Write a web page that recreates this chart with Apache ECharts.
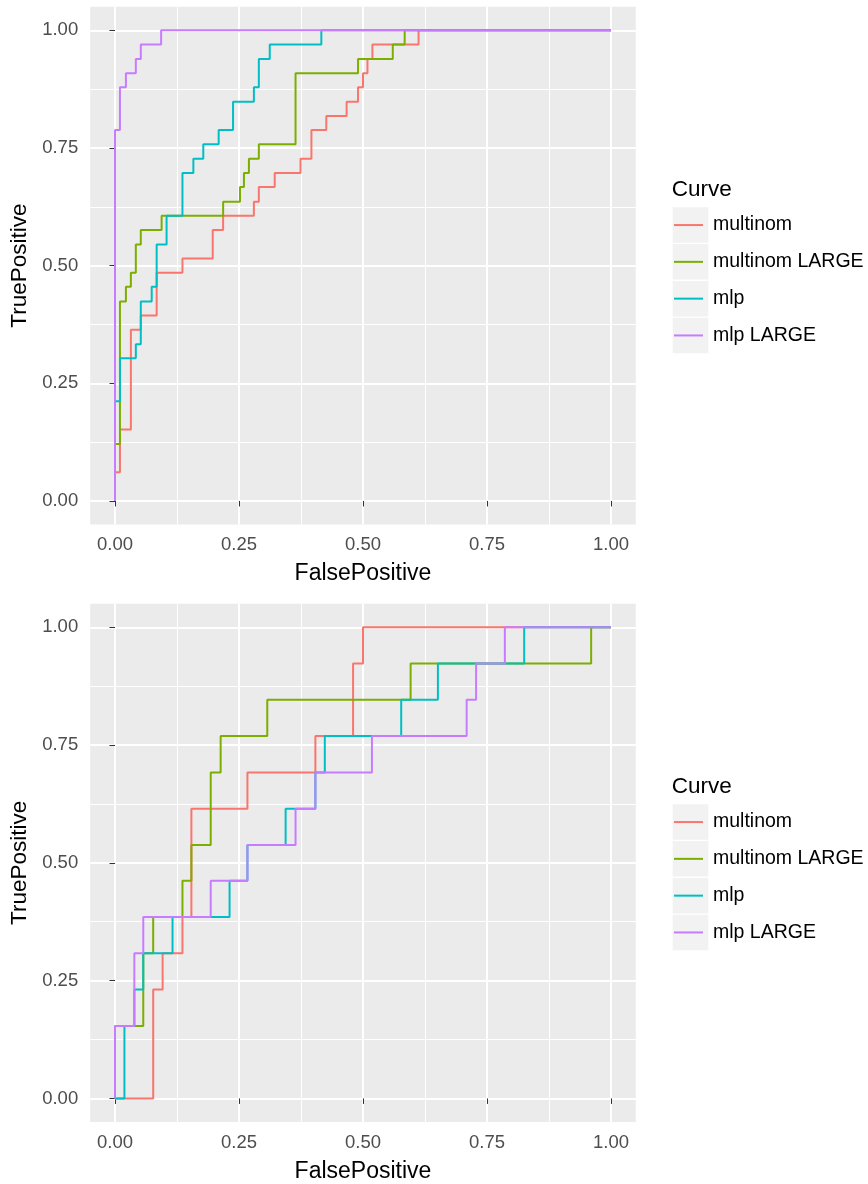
<!DOCTYPE html>
<html>
<head>
<meta charset="utf-8">
<script src="https://cdn.jsdelivr.net/npm/echarts@6/dist/echarts.min.js"></script>
<style>
  html, body { margin: 0; padding: 0; background: #fff; }
  #chart { width: 868px; height: 1184px; }
</style>
</head>
<body>
<div id="chart"></div>
<script>
// curve names + ggplot hue colours
var curveNames = ['multinom', 'multinom LARGE', 'mlp', 'mlp LARGE'];
var curveColors = ['#F8766D', '#7CAE00', '#00BFC4', '#C77CFF'];

var tickValues = [0, 0.25, 0.5, 0.75, 1];
var minorTickValues = [0.125, 0.375, 0.625, 0.875];

// top panel (ROC points)
var topMultinomFP = [0, 0, 0.010, 0.032, 0.052, 0.084, 0.136, 0.197, 0.218, 0.280, 0.290, 0.322, 0.374, 0.396, 0.426, 0.467, 0.490, 0.500, 0.509, 0.519, 0.612, 1];
var topMultinomTP = [0, 0.061, 0.152, 0.364, 0.394, 0.485, 0.515, 0.576, 0.606, 0.636, 0.667, 0.697, 0.727, 0.788, 0.818, 0.848, 0.879, 0.909, 0.939, 0.970, 1, 1];
var topMultinomLargeFP = [0, 0, 0.010, 0.022, 0.032, 0.042, 0.052, 0.094, 0.218, 0.252, 0.260, 0.270, 0.290, 0.364, 0.490, 0.560, 0.584, 1];
var topMultinomLargeTP = [0, 0.121, 0.424, 0.455, 0.485, 0.545, 0.576, 0.606, 0.636, 0.667, 0.697, 0.727, 0.758, 0.909, 0.939, 0.970, 1, 1];
var topMlpFP = [0, 0, 0.010, 0.042, 0.052, 0.074, 0.084, 0.104, 0.136, 0.158, 0.178, 0.209, 0.238, 0.280, 0.290, 0.312, 0.416, 1];
var topMlpTP = [0, 0.212, 0.303, 0.333, 0.424, 0.455, 0.545, 0.606, 0.697, 0.727, 0.758, 0.788, 0.848, 0.879, 0.939, 0.970, 1, 1];
var topMlpLargeFP = [0, 0, 0.010, 0.022, 0.042, 0.052, 0.093, 1];
var topMlpLargeTP = [0, 0.788, 0.879, 0.909, 0.939, 0.970, 1, 1];

// bottom panel
var botMultinomFP = [0, 0.077, 0.096, 0.136, 0.154, 0.267, 0.404, 0.480, 0.500, 1];
var botMultinomTP = [0, 0.231, 0.308, 0.385, 0.615, 0.692, 0.769, 0.923, 1, 1];
var botMultinomLargeFP = [0, 0, 0.057, 0.077, 0.136, 0.154, 0.193, 0.213, 0.307, 0.596, 0.960, 1];
var botMultinomLargeTP = [0, 0.154, 0.308, 0.385, 0.462, 0.538, 0.692, 0.769, 0.846, 0.923, 1, 1];
var botMlpFP = [0, 0.019, 0.039, 0.057, 0.116, 0.231, 0.267, 0.344, 0.404, 0.423, 0.577, 0.651, 0.825, 1];
var botMlpTP = [0, 0.154, 0.231, 0.308, 0.385, 0.462, 0.538, 0.615, 0.692, 0.769, 0.846, 0.923, 1, 1];
var botMlpLargeFP = [0, 0, 0.039, 0.057, 0.193, 0.267, 0.364, 0.404, 0.518, 0.709, 0.728, 0.786, 1];
var botMlpLargeTP = [0, 0.154, 0.308, 0.385, 0.462, 0.538, 0.615, 0.692, 0.769, 0.846, 0.923, 1, 1];

var panels = [
    {fp: [topMultinomFP, topMultinomLargeFP, topMlpFP, topMlpLargeFP], tp: [topMultinomTP, topMultinomLargeTP, topMlpTP, topMlpLargeTP]},
    {fp: [botMultinomFP, botMultinomLargeFP, botMlpFP, botMlpLargeFP], tp: [botMultinomTP, botMultinomLargeTP, botMlpTP, botMlpLargeTP]}
];

var FONT = 'Liberation Sans, Arial, sans-serif';
var gridTops = [6.8, 603.7];
var gridHeights = [517.7, 519.2];
var legendTops = [207.3, 804.3];
var keySize = 35.5, keyGap = 1.3;

function zip(a, b) {
    return a.map(function (v, i) { return [v, b[i]]; });
}

var grids = [], xAxes = [], yAxes = [], series = [], legends = [], titles = [], graphics = [];

panels.forEach(function (p, g) {
    grids.push({
        left: 90.2, right: 232.2, top: gridTops[g], height: gridHeights[g],
        show: true, backgroundColor: '#EBEBEB', borderWidth: 0
    });
    // main x axis
    xAxes.push({
        type: 'value', gridIndex: g, min: -0.05, max: 1.05,
        name: 'FalsePositive', nameLocation: 'middle', nameGap: 38,
        nameTextStyle: {fontSize: 23, color: '#000', fontFamily: FONT},
        axisLine: {show: false},
        axisTick: {show: true, length: 5.5, customValues: tickValues, lineStyle: {color: '#333'}},
        axisLabel: {customValues: tickValues, margin: 11, fontSize: 18.5, color: '#4D4D4D', fontFamily: FONT,
            formatter: function (v) { return v.toFixed(2); }},
        splitLine: {show: true, lineStyle: {color: '#fff', width: 2}}
    });
    // minor grid lines
    xAxes.push({
        type: 'value', gridIndex: g, min: -0.05, max: 1.05,
        axisLine: {show: false}, axisLabel: {show: false},
        axisTick: {show: false, customValues: minorTickValues},
        splitLine: {show: true, lineStyle: {color: '#fff', width: 1}}
    });
    yAxes.push({
        type: 'value', gridIndex: g, min: -0.05, max: 1.05,
        name: 'TruePositive', nameLocation: 'middle', nameGap: 54,
        nameTextStyle: {fontSize: 22.5, color: '#000', fontFamily: FONT},
        axisLine: {show: false},
        axisTick: {show: true, length: 5.5, customValues: tickValues, lineStyle: {color: '#333'}},
        axisLabel: {customValues: tickValues, margin: 12, fontSize: 18.5, color: '#4D4D4D', fontFamily: FONT,
            formatter: function (v) { return v.toFixed(2); }},
        splitLine: {show: true, lineStyle: {color: '#fff', width: 2}}
    });
    yAxes.push({
        type: 'value', gridIndex: g, min: -0.05, max: 1.05,
        axisLine: {show: false}, axisLabel: {show: false},
        axisTick: {show: false, customValues: minorTickValues},
        splitLine: {show: true, lineStyle: {color: '#fff', width: 1}}
    });

    curveNames.forEach(function (name, i) {
        series.push({
            name: name, type: 'line', step: 'end',
            xAxisIndex: g * 2, yAxisIndex: g * 2,
            data: zip(p.fp[i], p.tp[i]),
            showSymbol: false, symbol: 'none',
            lineStyle: {color: curveColors[i], width: 2},
            itemStyle: {color: curveColors[i]},
            z: 3 + i
        });
    });

    titles.push({
        text: 'Curve', left: 671.7, top: legendTops[g] - 28.8, padding: 0,
        textStyle: {fontSize: 22.5, fontWeight: 'normal', color: '#000', fontFamily: FONT}
    });
    legends.push({
        data: curveNames, orient: 'vertical', left: 674, top: legendTops[g],
        icon: 'rect', itemWidth: 29, itemHeight: 2, itemGap: keyGap,
        selectedMode: false, padding: 0,
        textStyle: {fontSize: 19.5, color: '#000', fontFamily: FONT, lineHeight: keySize, padding: [0, 0, 0, 5]}
    });
    curveNames.forEach(function (name, i) {
        graphics.push({
            type: 'rect', left: 672.7, top: legendTops[g] + i * (keySize + keyGap), z: -1,
            shape: {width: 35.6, height: keySize}, style: {fill: '#F2F2F2'}
        });
    });
});

var chart = echarts.init(document.getElementById('chart'));
chart.setOption({
    animation: false,
    backgroundColor: '#fff',
    title: titles,
    legend: legends,
    grid: grids,
    xAxis: xAxes,
    yAxis: yAxes,
    graphic: graphics,
    series: series
});
</script>
</body>
</html>
